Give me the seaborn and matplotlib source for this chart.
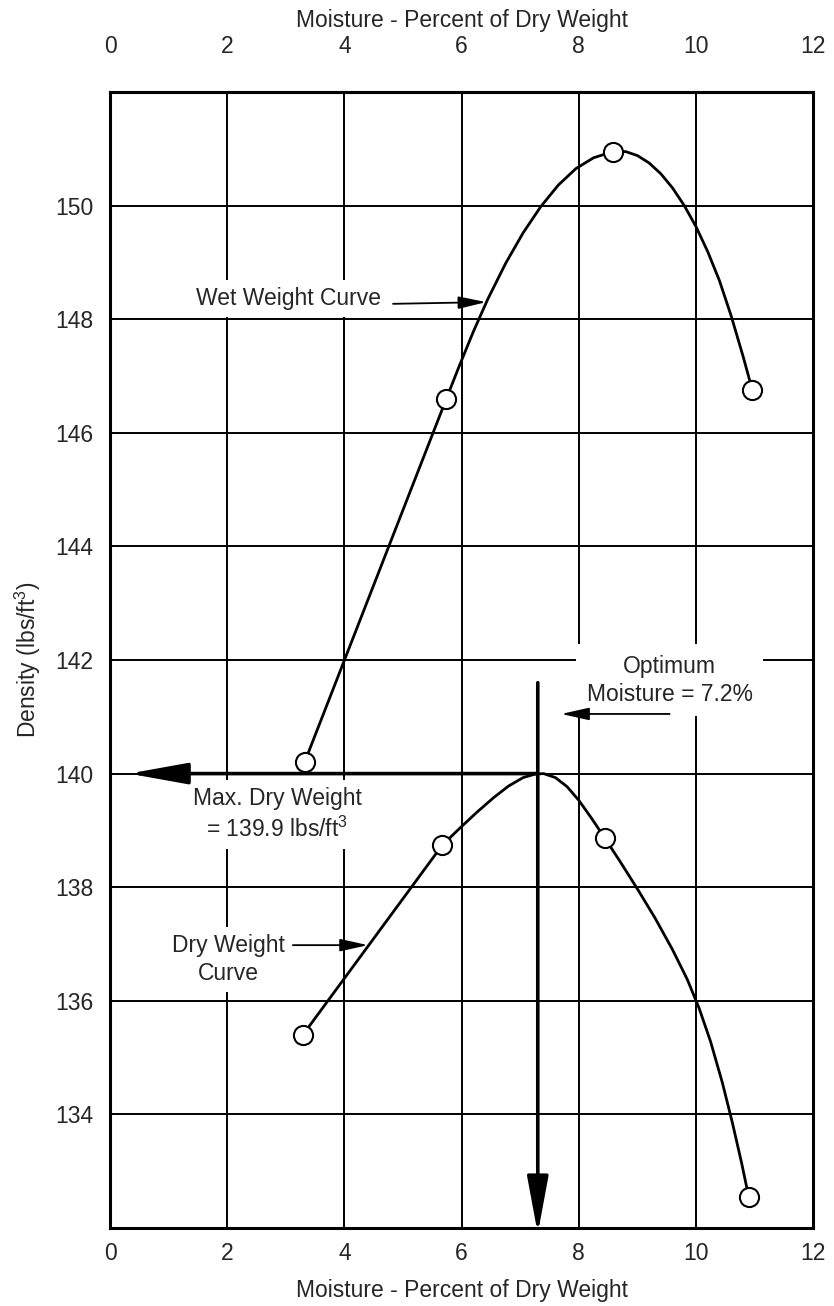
import numpy as np
import pandas as pd
import seaborn as sns
import matplotlib.pyplot as plt

# Proctor test points (moisture %, density lbs/ft3)
wet_x = [3.32, 5.74, 8.59, 10.96]
wet_y = [140.2, 146.6, 150.94, 146.76]
dry_x = [3.29, 5.67, 8.44, 10.90]
dry_y = [135.4, 138.74, 138.87, 132.55]

# hand-drawn fitted curves
wet_curve_x = [3.32, 5.74, 5.95, 6.20, 6.45, 6.75, 7.05, 7.35, 7.65, 7.95, 8.25, 8.55, 8.80,
               9.00, 9.20, 9.40, 9.60, 9.80, 10.00, 10.20, 10.40, 10.60, 10.80, 10.96]
wet_curve_y = [140.2, 146.6, 147.15, 147.78, 148.36, 148.98, 149.52, 149.98, 150.36, 150.65, 150.84, 150.94, 150.95,
               150.88, 150.75, 150.56, 150.31, 150.00, 149.63, 149.19, 148.68, 148.06, 147.36, 146.76]
dry_curve_x = [3.29, 5.67, 5.95, 6.25, 6.55, 6.80, 7.05, 7.25, 7.40, 7.60, 7.80, 8.00, 8.22, 8.44,
               8.70, 9.00, 9.30, 9.60, 9.85, 10.05, 10.25, 10.45, 10.62, 10.78, 10.90]
dry_curve_y = [135.4, 138.74, 139.02, 139.31, 139.58, 139.78, 139.93, 139.99, 140.0, 139.93, 139.77, 139.53, 139.21, 138.87,
               138.46, 137.97, 137.46, 136.90, 136.38, 135.88, 135.28, 134.56, 133.86, 133.14, 132.55]

x_ticks = [0, 2, 4, 6, 8, 10, 12]
y_ticks = [134, 136, 138, 140, 142, 144, 146, 148, 150]

opt_moisture = 7.3
max_dry = 140.0

sns.set_style("white")
plt.rcParams['font.family'] = ['Liberation Sans', 'DejaVu Sans']
plt.rcParams['mathtext.default'] = 'regular'
fs = 16.5

fig, ax = plt.subplots(figsize=(8.34, 13.06), dpi=100)
fig.subplots_adjust(left=0.132, right=0.975, bottom=0.0597, top=0.9296)

# curves
for cx, cy in [(wet_curve_x, wet_curve_y), (dry_curve_x, dry_curve_y)]:
    sns.lineplot(x=cx, y=cy, sort=False, color='black', lw=2.0, ax=ax, zorder=4)
for ln in ax.lines:
    ln.set_solid_joinstyle('round')

# points
pts = pd.DataFrame({'x': wet_x + dry_x, 'y': wet_y + dry_y})
sns.scatterplot(data=pts, x='x', y='y', s=190, facecolor='white', edgecolor='black',
                linewidth=1.5, ax=ax, zorder=5)

ax.set_xlim(0, 12)
ax.set_ylim(132, 152)
ax.set_xticks(x_ticks)
ax.set_yticks(y_ticks)
ax.tick_params(length=0, labelsize=fs)
ax.tick_params(axis='x', pad=10)
ax.tick_params(axis='y', pad=12)
ax.grid(True, color='black', lw=1.4)
ax.set_axisbelow(True)
for sp in ax.spines.values():
    sp.set_visible(True)
    sp.set_color('black')
    sp.set_linewidth(2.2)

ax.set_xlabel("Moisture - Percent of Dry Weight", fontsize=fs, labelpad=10)
ax.set_ylabel("Density (lbs/ft$^3$)", fontsize=fs, labelpad=9)

top = ax.secondary_xaxis('top')
top.set_xticks(x_ticks)
top.tick_params(length=0, labelsize=fs, pad=24.5)
top.set_xlabel("Moisture - Percent of Dry Weight", fontsize=fs, labelpad=6)
top.spines['top'].set_linewidth(2.2)

# big arrows for optimum moisture / max dry weight
ax.annotate("", xy=(0.32, max_dry), xytext=(opt_moisture, max_dry),
            arrowprops=dict(arrowstyle='-|>,head_length=3.6,head_width=0.65', mutation_scale=10,
                            lw=2.6, color='black', shrinkA=0, shrinkB=0), zorder=4)
ax.annotate("", xy=(opt_moisture, 131.9), xytext=(opt_moisture, 141.6), annotation_clip=False,
            arrowprops=dict(arrowstyle='-|>,head_length=3.5,head_width=0.65', mutation_scale=10,
                            lw=2.6, color='black', shrinkA=0, shrinkB=0), zorder=4)

# small pointer arrows
small = dict(arrowstyle='-|>,head_length=1.7,head_width=0.38', mutation_scale=10,
             lw=1.3, color='black', shrinkA=0, shrinkB=0)
ax.annotate("", xy=(6.42, 148.3), xytext=(4.83, 148.27), arrowprops=small, zorder=4)
ax.annotate("", xy=(4.40, 136.98), xytext=(3.12, 136.98), arrowprops=small, zorder=4)
ax.annotate("", xy=(7.70, 141.05), xytext=(9.55, 141.05), arrowprops=small, zorder=4)

box = dict(facecolor='white', edgecolor='none', boxstyle='square,pad=0.3')
ax.text(3.05, 148.36, "Wet Weight Curve", fontsize=fs, ha='center', va='center', bbox=box, zorder=3)
ax.text(9.55, 141.64, "Optimum\nMoisture = 7.2%", fontsize=fs, ha='center', va='center',
        linespacing=1.3, bbox=dict(facecolor='white', edgecolor='none', boxstyle='square,pad=0.45'),
        zorder=3)
ax.text(2.85, 139.28, "Max. Dry Weight\n= 139.9 lbs/ft$^3$", fontsize=fs, ha='center', va='center',
        multialignment='center', linespacing=1.3, bbox=box, zorder=3)
ax.text(2.02, 136.73, "Dry Weight\nCurve", fontsize=fs, ha='center', va='center',
        multialignment='center', linespacing=1.3, bbox=box, zorder=3)

fig.savefig("out.png", dpi=100)
